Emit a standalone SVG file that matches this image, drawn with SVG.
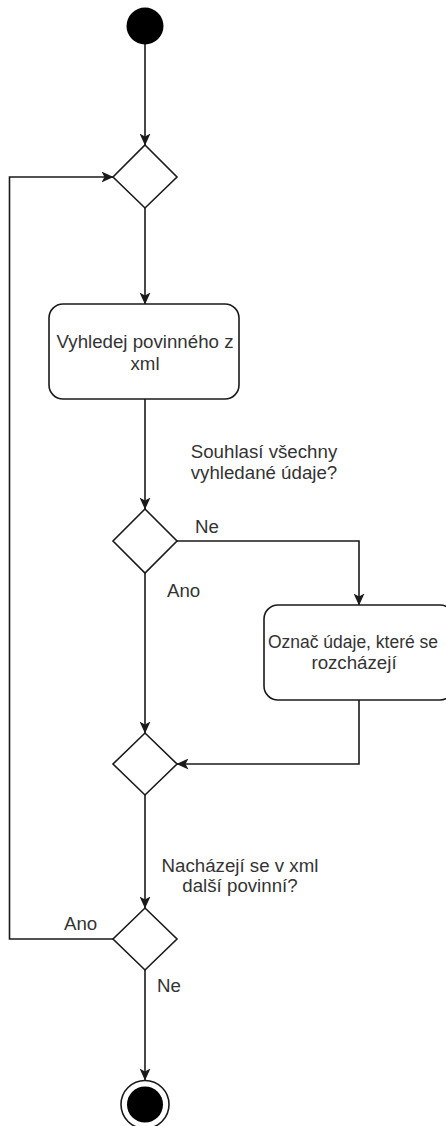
<svg xmlns="http://www.w3.org/2000/svg" width="446" height="1126" viewBox="0 0 446 1126">
  <style>
    .shape { fill: #ffffff; stroke: #1a1a1a; stroke-width: 1.6; }
    .edge { fill: none; stroke: #1a1a1a; stroke-width: 1.6; }
    .label { font-family: "Liberation Sans", Arial, sans-serif; font-size: 18.7px; fill: #333333; }
    .mid { text-anchor: middle; }
  </style>
  <defs>
    <marker id="arrow" viewBox="0 0 12 11" refX="11.5" refY="5.5" markerWidth="12" markerHeight="11" orient="auto" markerUnits="userSpaceOnUse">
      <path d="M0,0 L12,5.5 L0,11 L3,5.5 Z" fill="#1a1a1a"/>
    </marker>
  </defs>
  <rect width="446" height="1126" fill="#ffffff"/>

  <!-- connectors -->
  <g id="connectors">
    <path class="edge" d="M145,44 L145,145" marker-end="url(#arrow)"/>
    <path class="edge" d="M145,208 L145,304" marker-end="url(#arrow)"/>
    <path class="edge" d="M145,399 L145,509" marker-end="url(#arrow)"/>
    <path class="edge" d="M177,541 L359,541 L359,605" marker-end="url(#arrow)"/>
    <path class="edge" d="M145,573 L145,733" marker-end="url(#arrow)"/>
    <path class="edge" d="M359,700 L359,764 L177,764" marker-end="url(#arrow)"/>
    <path class="edge" d="M145,795 L145,908" marker-end="url(#arrow)"/>
    <path class="edge" d="M113,939 L9.5,939 L9.5,177 L113,177" marker-end="url(#arrow)"/>
    <path class="edge" d="M145,970 L145,1080" marker-end="url(#arrow)"/>

    <text class="label mid" x="264" y="458">Souhlasí všechny</text>
    <text class="label mid" x="264" y="479">vyhledané údaje?</text>
    <text class="label" x="195" y="533">Ne</text>
    <text class="label" x="167" y="597">Ano</text>
    <text class="label mid" x="240" y="872">Nacházejí se v xml</text>
    <text class="label mid" x="240" y="892">další povinní?</text>
    <text class="label" x="64" y="930">Ano</text>
    <text class="label" x="157" y="992">Ne</text>
  </g>

  <!-- nodes -->
  <g id="start">
    <circle cx="145" cy="26" r="18.5" fill="#000000"/>
  </g>
  <g id="merge-loop">
    <polygon class="shape" points="145,145 177,177 145,208 113,177"/>
  </g>
  <g id="find-obligor">
    <rect class="shape" x="49" y="304" width="190" height="95" rx="14" ry="14"/>
    <text class="label mid" x="145" y="348">Vyhledej povinného z</text>
    <text class="label mid" x="145" y="370">xml</text>
  </g>
  <g id="decision-match">
    <polygon class="shape" points="145,509 177,541 145,573 113,541"/>
  </g>
  <g id="mark-differences">
    <rect class="shape" x="264" y="605" width="190" height="95" rx="14" ry="14"/>
    <text class="label" x="268" y="648" textLength="170" lengthAdjust="spacingAndGlyphs">Označ údaje, které se</text>
    <text class="label mid" x="354" y="669">rozcházejí</text>
  </g>
  <g id="merge-match">
    <polygon class="shape" points="145,733 177,764 145,795 113,764"/>
  </g>
  <g id="decision-more">
    <polygon class="shape" points="145,908 177,939 145,970 113,939"/>
  </g>
  <g id="end">
    <circle cx="145" cy="1104.5" r="24" fill="#ffffff" stroke="#1a1a1a" stroke-width="1.6"/>
    <circle cx="145" cy="1104.5" r="18" fill="#000000"/>
  </g>
</svg>
